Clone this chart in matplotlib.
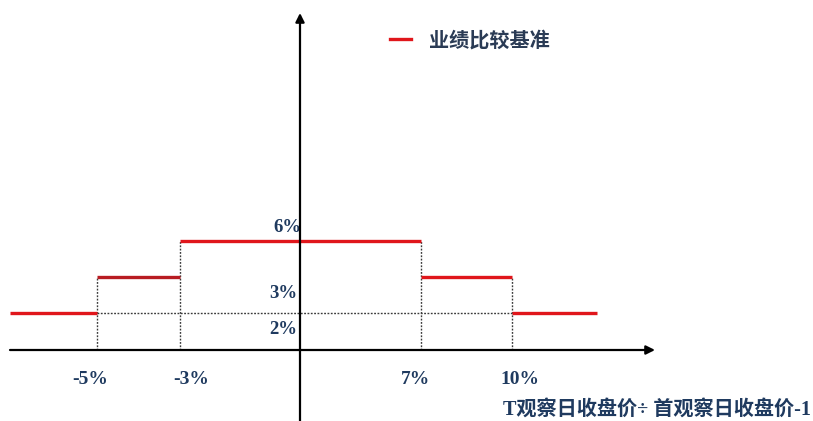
import numpy as np
import matplotlib
matplotlib.use('Agg')
import matplotlib.pyplot as plt
from matplotlib.lines import Line2D
from matplotlib.font_manager import FontProperties

# ---------------- data ----------------
edges = [-7, -5, -3, 7, 10, 12]          # segment boundaries (x, %)
levels = [2, 3, 6, 3, 2]                 # benchmark level per segment (%)
breaks = [-5, -3, 7, 10]
tick_labels = ['-5%', '-3%', '7%', '10%']
level_values = [6, 3, 2]
level_labels = ['6%', '3%', '2%']
legend_label = '业绩比较基准'
xlabel = 'T观察日收盘价÷ 首观察日收盘价-1'

# ---------------- schematic (non-proportional) scales ----------------
xk_val = [-7, -5, -3, 0, 7, 10, 12]
xk_pos = [10, 97, 180, 300, 421, 512, 597]
yk_val = [0, 2, 3, 6]
yk_pos = [71, 108, 144, 180]


def piecewise(v, xs, ys):
    v = np.asarray(v, dtype=float)
    xs = np.asarray(xs, dtype=float)
    ys = np.asarray(ys, dtype=float)
    out = np.interp(v, xs, ys)
    s0 = (ys[1] - ys[0]) / (xs[1] - xs[0])
    s1 = (ys[-1] - ys[-2]) / (xs[-1] - xs[-2])
    out = np.where(v < xs[0], ys[0] + (v - xs[0]) * s0, out)
    out = np.where(v > xs[-1], ys[-1] + (v - xs[-1]) * s1, out)
    return out


fx = lambda v: piecewise(v, xk_val, xk_pos)
ix = lambda p: piecewise(p, xk_pos, xk_val)
fy = lambda v: piecewise(v, yk_val, yk_pos)
iy = lambda p: piecewise(p, yk_pos, yk_val)

W, H = 813, 421
fig = plt.figure(figsize=(W / 100, H / 100), dpi=100)
ax = fig.add_axes([0, 0, 1, 1])
ax.set_xscale('function', functions=(fx, ix))
ax.set_yscale('function', functions=(fy, iy))
ax.set_xlim(float(ix(0)), float(ix(W)))
ax.set_ylim(float(iy(0)), float(iy(H)))
ax.axis('off')

RED = '#e0161b'
NAVY = '#1f3a5f'
DOT = '#3a3a3a'

# dotted guides
ax.hlines(levels[0], breaks[0], breaks[-1], colors=DOT, linestyles=(0, (1.3, 1.1)), lw=1.0, zorder=1)
for b, top in zip(breaks, [levels[1], levels[2], levels[2], levels[3]]):
    ax.vlines(b, 0, top, colors=DOT, linestyles=(0, (1.3, 1.1)), lw=1.0, zorder=1)

# step segments
for i, lv in enumerate(levels):
    col = '#b81c22' if i == 1 else RED
    ax.hlines(lv, edges[i], edges[i + 1], colors=col, lw=2.4, zorder=3, capstyle='butt')

# axes arrows
ap = dict(arrowstyle='-|>', color='black', lw=1.6, mutation_scale=13, shrinkA=0, shrinkB=0)
ax.annotate('', xy=(655 / W, 0), xytext=(10 / W, 0),
            xycoords=('axes fraction', 'data'), textcoords=('axes fraction', 'data'),
            arrowprops=ap, zorder=4)
ax.annotate('', xy=(0, 1 - 13 / H), xytext=(0, 0),
            xycoords=('data', 'axes fraction'), textcoords=('data', 'axes fraction'),
            arrowprops=ap, zorder=4)

serif = dict(family=['Liberation Serif', 'Noto Sans CJK SC'], weight='bold', color=NAVY)

# x tick labels
x_off = [-7, 11, -6, 8]
for b, lab, off in zip(breaks, tick_labels, x_off):
    ax.annotate(lab, xy=(b, 0), xytext=(off, -30), textcoords='offset pixels',
                ha='center', va='center', fontsize=14, **serif)

# level labels
y_off = [13, -17, -16]
x_lab = [-13, -17, -17]
for v, lab, yo, xo in zip(level_values, level_labels, y_off, x_lab):
    ax.annotate(lab, xy=(0, v), xytext=(xo, yo), textcoords='offset pixels',
                ha='center', va='center', fontsize=13.5, **serif)

# x-axis title
ax.text(503 / W, 1 - 410 / H, xlabel, transform=ax.transAxes, ha='left', va='center',
        fontsize=14.5, family=['Liberation Serif', 'Noto Sans CJK SC'], weight='bold', color=NAVY)

# legend
leg = ax.legend(handles=[Line2D([], [], color=RED, lw=2.4)], labels=[legend_label],
                loc='center left', bbox_to_anchor=(390 / W, 1 - 40 / H), frameon=False,
                handlelength=1.05, handletextpad=0.9, borderpad=0, borderaxespad=0,
                prop=FontProperties(family=['Noto Sans CJK SC'], weight='bold', size=14.5))
for t in leg.get_texts():
    t.set_color('#2a3b55')

fig.savefig('out.png', dpi=100, facecolor='white')
